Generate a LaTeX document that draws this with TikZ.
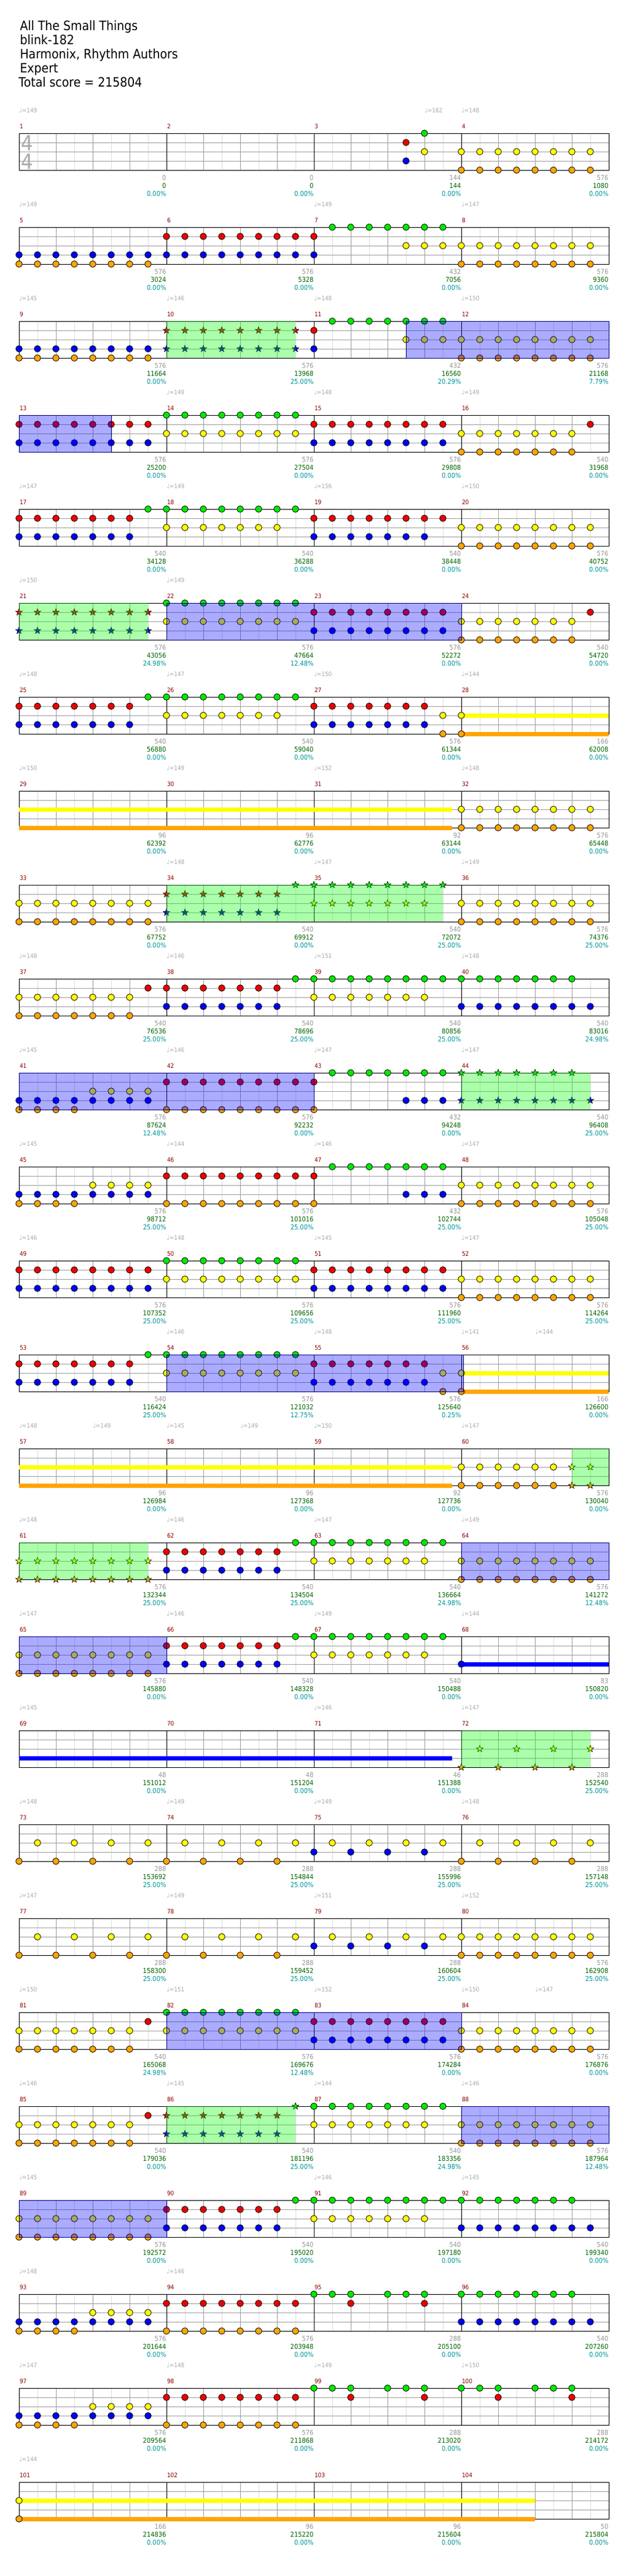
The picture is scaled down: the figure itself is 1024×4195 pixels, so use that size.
\documentclass[tikz,border=0pt]{standalone}
\usepackage{fontspec}
\setmainfont{DejaVu Sans}[FakeStretch=0.9]
\usetikzlibrary{shapes.geometric, math}

\definecolor{cgrid}{RGB}{160, 160, 160}
\definecolor{cgridlight}{RGB}{222, 222, 222}
\definecolor{ctempo}{RGB}{170, 170, 170}
\definecolor{cbarnum}{RGB}{139, 0, 0}
\definecolor{cpoints}{RGB}{150, 150, 150}
\definecolor{ctotal}{RGB}{0, 100, 0}
\definecolor{cratio}{RGB}{0, 150, 150}
\definecolor{cspfill}{RGB}{0, 255, 0}
\definecolor{codfill}{RGB}{0, 0, 255}
\definecolor{codline}{RGB}{0, 0, 128}

% lane letter (circle), lane letter (star), offset below the top line, colour
\newcommand{\deflane}[4]{%
  \definecolor{n#1}{RGB}{#4}\definecolor{n#2}{RGB}{#4}%
  \expandafter\def\csname off#1\endcsname{#3}%
  \expandafter\def\csname off#2\endcsname{#3}%
  \expandafter\def\csname kind#1\endcsname{note}%
  \expandafter\def\csname kind#2\endcsname{spnote}}
\deflane{g}{G}{0}{0, 235, 0}
\deflane{r}{R}{15}{240, 0, 0}
\deflane{y}{Y}{30}{255, 255, 0}
\deflane{b}{B}{45}{0, 0, 255}
\deflane{o}{O}{60}{255, 165, 0}

\tikzset{
  note/.style={circle, draw=black, line width=0.8pt, minimum size=10.6pt, inner sep=0pt},
  spnote/.style={star, star points=5, star point ratio=2.4, draw=black, line width=0.6pt,
    minimum size=11.5pt, inner sep=0pt},
  holdbar/.style={line width=7pt},
  spzone/.style={fill=cspfill, fill opacity=0.33},
  odzone/.style={fill=codfill, fill opacity=0.33, draw=codline, line width=1pt},
  heading/.style={anchor=base west, inner sep=0pt, font=\fontsize{21}{23}\selectfont},
  barnum/.style={anchor=base west, inner sep=0pt, text=cbarnum, font=\fontsize{10}{10}\selectfont},
  tempomark/.style={anchor=base west, inner sep=0pt, text=ctempo, font=\fontsize{10}{10}\selectfont},
  tally/.style={anchor=base east, inner sep=0pt, font=\fontsize{11}{11}\selectfont},
  timesig/.style={anchor=base, inner sep=0pt, text=ctempo, font=\fontsize{34}{34}\selectfont}
}

\newcommand{\mpos}[1]{%
  \pgfmathtruncatemacro\mrow{int((#1-1)/4)}%
  \pgfmathtruncatemacro\mcol{mod(#1-1,4)}}

% number, points, running total, ratio, notes first/step/last/lane
\newcommand{\drawmeasure}[5]{%
  \mpos{#1}
  \begin{scope}[shift={(31+240*\mcol, 217+153*\mrow)}]
    \node[barnum] (m#1) at (0.5, -7.5) {#1};
    \def\notelist{#5}
    \ifx\notelist\empty\else
    \foreach \fst/\stp/\lst/\lane in \notelist {
      \edef\nkind{\csname kind\lane\endcsname}
      \edef\ly{\csname off\lane\endcsname}
      \foreach \p in {0, 1, ..., 7} {
        \pgfmathtruncatemacro\ok{(\p>=\fst)&&(\p<=\lst)&&(mod(\p-\fst,\stp)==0)}
        \ifnum\ok=1
          \node[\nkind, fill=n\lane] (n#1-\p\lane) at (30*\p, \ly) {};
        \fi
      }
    }
    \fi
    \node[tally, text=cpoints] (p#1) at (240, 76) {#2};
    \node[tally, text=ctotal]  (t#1) at (240, 89) {#3};
    \node[tally, text=cratio]  (q#1) at (240, 102) {#4\%};
  \end{scope}}

\newcommand{\sustain}[4]{%
  \mpos{#1}
  \edef\ly{\csname off#4\endcsname}
  \draw[holdbar, n#4] (31+240*\mcol+30*#2, 217+153*\mrow+\ly)
                   -- (31+240*\mcol+30*#3, 217+153*\mrow+\ly);}

\newcommand{\spzone}[3]{%
  \mpos{#1}
  \fill[spzone] (31+240*\mcol+30*#2, 217+153*\mrow) rectangle (31+240*\mcol+30*#3, 277+153*\mrow);}

\newcommand{\odzone}[3]{%
  \mpos{#1}
  \filldraw[odzone] (31+240*\mcol+30*#2, 217+153*\mrow) rectangle (31+240*\mcol+30*#3, 277+153*\mrow);}

\begin{document}
\begin{tikzpicture}[x=1pt, y=-1pt, line width=1pt]

  \useasboundingbox[fill=white] (0, 0) rectangle (1024, 4195);

  \node[heading] (song)   at (32, 49)  {All The Small Things};
  \node[heading] (artist) at (32, 72)  {blink-182};
  \node[heading] (author) at (32, 95)  {Harmonix, Rhythm Authors};
  \node[heading] (level)  at (32, 118) {Expert};
  \node[heading] (total)  at (30, 141) {Total score = 215804};

  % staves, four bars to a row
  \foreach \r in {0, 1, ..., 25} {
    \begin{scope}[shift={(31, 217+153*\r)}]
      \foreach \k in {1, 3, ..., 31} { \draw[cgridlight] (30*\k, 0) -- (30*\k, 60); }
      \foreach \k in {2, 4, ..., 30} { \draw[cgrid] (30*\k, 0) -- (30*\k, 60); }
      \foreach \h in {15, 30, 45} { \draw[cgrid] (0, \h) -- (960, \h); }
      \foreach \k in {8, 16, 24} { \draw[black] (30*\k, 0) -- (30*\k, 60); }
      \draw[black] (0, 0) rectangle (960, 60);
    \end{scope}
  }

  \node[timesig] (sigtop) at (44.5, 245) {4};
  \node[timesig] (sigbot) at (44.5, 275) {4};

  \sustain{28}{0}{8}{y}    \sustain{28}{0}{8}{o}
  \sustain{29}{0}{23.5}{y} \sustain{29}{0}{23.5}{o}
  \sustain{56}{0}{8}{y}    \sustain{56}{0}{8}{o}
  \sustain{57}{0}{23.5}{y} \sustain{57}{0}{23.5}{o}
  \sustain{68}{0}{8}{b}
  \sustain{69}{0}{23.5}{b}
  \sustain{101}{0}{28}{y}  \sustain{101}{0}{28}{o}

  \drawmeasure{1}{0}{0}{0.00}{}
  \drawmeasure{2}{0}{0}{0.00}{}
  \drawmeasure{3}{144}{144}{0.00}{5/1/5/r, 5/1/5/b, 6/1/6/g, 6/1/6/y}
  \drawmeasure{4}{576}{1080}{0.00}{0/1/7/y, 0/1/7/o}
  \drawmeasure{5}{576}{3024}{0.00}{0/1/7/b, 0/1/7/o}
  \drawmeasure{6}{576}{5328}{0.00}{0/1/7/r, 0/1/7/b}
  \drawmeasure{7}{432}{7056}{0.00}{0/1/0/r, 0/1/0/b, 1/1/7/g, 5/1/7/y}
  \drawmeasure{8}{576}{9360}{0.00}{0/1/7/y, 0/1/7/o}
  \drawmeasure{9}{576}{11664}{0.00}{0/1/7/b, 0/1/7/o}
  \drawmeasure{10}{576}{13968}{25.00}{0/1/7/R, 0/1/7/B}
  \drawmeasure{11}{432}{16560}{20.29}{0/1/0/r, 0/1/0/b, 1/1/7/g, 5/1/7/y}
  \drawmeasure{12}{576}{21168}{7.79}{0/1/7/y, 0/1/7/o}
  \drawmeasure{13}{576}{25200}{0.00}{0/1/7/r, 0/1/7/b}
  \drawmeasure{14}{576}{27504}{0.00}{0/1/7/g, 0/1/7/y}
  \drawmeasure{15}{576}{29808}{0.00}{0/1/7/r, 0/1/7/b}
  \drawmeasure{16}{540}{31968}{0.00}{0/1/6/y, 0/1/6/o, 7/1/7/r}
  \drawmeasure{17}{540}{34128}{0.00}{0/1/6/r, 0/1/6/b, 7/1/7/g}
  \drawmeasure{18}{540}{36288}{0.00}{0/1/7/g, 0/1/6/y}
  \drawmeasure{19}{540}{38448}{0.00}{0/1/7/r, 0/1/6/b}
  \drawmeasure{20}{576}{40752}{0.00}{0/1/7/y, 0/1/7/o}
  \drawmeasure{21}{576}{43056}{24.98}{0/1/7/R, 0/1/7/B}
  \drawmeasure{22}{576}{47664}{12.48}{0/1/7/g, 0/1/7/y}
  \drawmeasure{23}{576}{52272}{0.00}{0/1/7/r, 0/1/7/b}
  \drawmeasure{24}{540}{54720}{0.00}{0/1/6/y, 0/1/6/o, 7/1/7/r}
  \drawmeasure{25}{540}{56880}{0.00}{0/1/6/r, 0/1/6/b, 7/1/7/g}
  \drawmeasure{26}{540}{59040}{0.00}{0/1/7/g, 0/1/6/y}
  \drawmeasure{27}{576}{61344}{0.00}{0/1/6/r, 0/1/6/b, 7/1/7/y, 7/1/7/o}
  \drawmeasure{28}{166}{62008}{0.00}{0/1/0/y, 0/1/0/o}
  \drawmeasure{29}{96}{62392}{0.00}{}
  \drawmeasure{30}{96}{62776}{0.00}{}
  \drawmeasure{31}{92}{63144}{0.00}{}
  \drawmeasure{32}{576}{65448}{0.00}{0/1/7/y, 0/1/7/o}
  \drawmeasure{33}{576}{67752}{0.00}{0/1/7/y, 0/1/7/o}
  \drawmeasure{34}{540}{69912}{0.00}{0/1/6/R, 0/1/6/B, 7/1/7/G}
  \drawmeasure{35}{540}{72072}{25.00}{0/1/7/G, 0/1/6/Y}
  \drawmeasure{36}{576}{74376}{25.00}{0/1/7/y, 0/1/7/o}
  \drawmeasure{37}{540}{76536}{25.00}{0/1/6/y, 0/1/6/o, 7/1/7/r}
  \drawmeasure{38}{540}{78696}{25.00}{0/1/6/r, 0/1/6/b, 7/1/7/g}
  \drawmeasure{39}{540}{80856}{25.00}{0/1/7/g, 0/1/6/y}
  \drawmeasure{40}{540}{83016}{24.98}{0/1/6/g, 0/1/7/b}
  \drawmeasure{41}{576}{87624}{12.48}{0/1/7/b, 0/1/3/o, 4/1/7/y}
  \drawmeasure{42}{576}{92232}{0.00}{0/1/7/r, 0/1/7/o}
  \drawmeasure{43}{432}{94248}{0.00}{0/1/0/r, 0/1/0/o, 1/1/7/g, 5/1/7/b}
  \drawmeasure{44}{540}{96408}{25.00}{0/1/6/G, 0/1/7/B}
  \drawmeasure{45}{576}{98712}{25.00}{0/1/7/b, 0/1/3/o, 4/1/7/y}
  \drawmeasure{46}{576}{101016}{25.00}{0/1/7/r, 0/1/7/o}
  \drawmeasure{47}{432}{102744}{25.00}{0/1/0/r, 0/1/0/o, 1/1/7/g, 5/1/7/b}
  \drawmeasure{48}{576}{105048}{25.00}{0/1/7/y, 0/1/7/o}
  \drawmeasure{49}{576}{107352}{25.00}{0/1/7/r, 0/1/7/b}
  \drawmeasure{50}{576}{109656}{25.00}{0/1/7/g, 0/1/7/y}
  \drawmeasure{51}{576}{111960}{25.00}{0/1/7/r, 0/1/7/b}
  \drawmeasure{52}{576}{114264}{25.00}{0/1/7/y, 0/1/7/o}
  \drawmeasure{53}{540}{116424}{25.00}{0/1/6/r, 0/1/6/b, 7/1/7/g}
  \drawmeasure{54}{576}{121032}{12.75}{0/1/7/g, 0/1/7/y}
  \drawmeasure{55}{576}{125640}{0.25}{0/1/6/r, 0/1/6/b, 7/1/7/y, 7/1/7/o}
  \drawmeasure{56}{166}{126600}{0.00}{0/1/0/y, 0/1/0/o}
  \drawmeasure{57}{96}{126984}{0.00}{}
  \drawmeasure{58}{96}{127368}{0.00}{}
  \drawmeasure{59}{92}{127736}{0.00}{}
  \drawmeasure{60}{576}{130040}{0.00}{0/1/5/y, 0/1/5/o, 6/1/7/Y, 6/1/7/O}
  \drawmeasure{61}{576}{132344}{25.00}{0/1/7/Y, 0/1/7/O}
  \drawmeasure{62}{540}{134504}{25.00}{0/1/6/r, 0/1/6/b, 7/1/7/g}
  \drawmeasure{63}{540}{136664}{24.98}{0/1/7/g, 0/1/6/y}
  \drawmeasure{64}{576}{141272}{12.48}{0/1/7/y, 0/1/7/o}
  \drawmeasure{65}{576}{145880}{0.00}{0/1/7/y, 0/1/7/o}
  \drawmeasure{66}{540}{148328}{0.00}{0/1/6/r, 0/1/6/b, 7/1/7/g}
  \drawmeasure{67}{540}{150488}{0.00}{0/1/7/g, 0/1/6/y}
  \drawmeasure{68}{83}{150820}{0.00}{0/1/0/b}
  \drawmeasure{69}{48}{151012}{0.00}{}
  \drawmeasure{70}{48}{151204}{0.00}{}
  \drawmeasure{71}{46}{151388}{0.00}{}
  \drawmeasure{72}{288}{152540}{25.00}{0/2/6/O, 1/2/7/Y}
  \drawmeasure{73}{288}{153692}{25.00}{0/2/6/o, 1/2/7/y}
  \drawmeasure{74}{288}{154844}{25.00}{0/2/6/o, 1/2/7/y}
  \drawmeasure{75}{288}{155996}{25.00}{0/2/6/b, 1/2/7/y}
  \drawmeasure{76}{288}{157148}{25.00}{0/2/6/o, 1/2/7/y}
  \drawmeasure{77}{288}{158300}{25.00}{0/2/6/o, 1/2/7/y}
  \drawmeasure{78}{288}{159452}{25.00}{0/2/6/o, 1/2/7/y}
  \drawmeasure{79}{288}{160604}{25.00}{0/2/6/b, 1/2/7/y}
  \drawmeasure{80}{576}{162908}{25.00}{0/1/7/y, 0/1/7/o}
  \drawmeasure{81}{540}{165068}{24.98}{0/1/6/y, 0/1/6/o, 7/1/7/r}
  \drawmeasure{82}{576}{169676}{12.48}{0/1/7/g, 0/1/7/y}
  \drawmeasure{83}{576}{174284}{0.00}{0/1/7/r, 0/1/7/b}
  \drawmeasure{84}{576}{176876}{0.00}{0/1/7/y, 0/1/7/o}
  \drawmeasure{85}{540}{179036}{0.00}{0/1/6/y, 0/1/6/o, 7/1/7/r}
  \drawmeasure{86}{540}{181196}{25.00}{0/1/6/R, 0/1/6/B, 7/1/7/G}
  \drawmeasure{87}{540}{183356}{24.98}{0/1/7/g, 0/1/6/y}
  \drawmeasure{88}{576}{187964}{12.48}{0/1/7/y, 0/1/7/o}
  \drawmeasure{89}{576}{192572}{0.00}{0/1/7/y, 0/1/7/o}
  \drawmeasure{90}{540}{195020}{0.00}{0/1/6/r, 0/1/6/b, 7/1/7/g}
  \drawmeasure{91}{540}{197180}{0.00}{0/1/7/g, 0/1/6/y}
  \drawmeasure{92}{540}{199340}{0.00}{0/1/6/g, 0/1/7/b}
  \drawmeasure{93}{576}{201644}{0.00}{0/1/7/b, 0/1/3/o, 4/1/7/y}
  \drawmeasure{94}{576}{203948}{0.00}{0/1/7/r, 0/1/7/o}
  \drawmeasure{95}{288}{205100}{0.00}{0/1/2/g, 4/1/6/g, 2/4/6/r}
  \drawmeasure{96}{540}{207260}{0.00}{0/1/6/g, 0/1/7/b}
  \drawmeasure{97}{576}{209564}{0.00}{0/1/7/b, 0/1/3/o, 4/1/7/y}
  \drawmeasure{98}{576}{211868}{0.00}{0/1/7/r, 0/1/7/o}
  \drawmeasure{99}{288}{213020}{0.00}{0/1/2/g, 4/1/6/g, 2/4/6/r}
  \drawmeasure{100}{288}{214172}{0.00}{0/1/2/g, 4/1/6/g, 2/4/6/r}
  \drawmeasure{101}{166}{214836}{0.00}{0/1/0/y, 0/1/0/o}
  \drawmeasure{102}{96}{215220}{0.00}{}
  \drawmeasure{103}{96}{215604}{0.00}{}
  \drawmeasure{104}{50}{215804}{0.00}{}

  % star power phrases and overdrive
  \spzone{10}{0}{7} \spzone{21}{0}{7} \spzone{34}{0}{15} \spzone{44}{0}{7}
  \spzone{60}{6}{8} \spzone{61}{0}{7} \spzone{72}{0}{7} \spzone{86}{0}{7}
  \odzone{11}{5}{16} \odzone{13}{0}{5} \odzone{22}{0}{16} \odzone{41}{0}{16}
  \odzone{54}{0}{16.1} \odzone{64}{0}{8} \odzone{65}{0}{8} \odzone{82}{0}{16}
  \odzone{88}{0}{8} \odzone{89}{0}{8}

  % tempo changes: bar/eighth/bpm
  \foreach \m/\p/\bpm in {1/0/149, 3/6/162, 4/0/148, 5/0/149, 7/0/149, 8/0/147,
      9/0/145, 10/0/146, 11/0/148, 12/0/150, 14/0/149, 15/0/148, 16/0/149,
      17/0/147, 18/0/149, 19/0/156, 20/0/150, 21/0/150, 22/0/149,
      25/0/148, 26/0/147, 27/0/150, 28/0/144, 29/0/150, 30/0/149, 31/0/152, 32/0/148,
      34/0/148, 35/0/147, 36/0/149, 37/0/148, 38/0/146, 39/0/151, 40/0/148,
      41/0/145, 42/0/146, 43/0/147, 44/0/147, 45/0/145, 46/0/144, 47/0/146, 48/0/147,
      49/0/146, 50/0/148, 51/0/145, 52/0/147, 54/0/146, 55/0/148, 56/0/141, 56/4/144,
      57/0/148, 57/4/149, 58/0/145, 58/4/149, 59/0/150, 60/0/147,
      61/0/148, 62/0/146, 63/0/147, 64/0/149, 65/0/147, 66/0/146, 67/0/149, 68/0/144,
      69/0/145, 71/0/146, 72/0/147, 73/0/148, 74/0/149, 75/0/149, 76/0/148,
      77/0/147, 78/0/149, 79/0/151, 80/0/152, 81/0/150, 82/0/151, 83/0/152, 84/0/150, 84/4/147,
      85/0/146, 86/0/145, 87/0/144, 88/0/146, 89/0/145, 91/0/146, 92/0/145,
      93/0/148, 94/0/146, 97/0/147, 98/0/148, 99/0/149, 100/0/150, 101/0/144} {
    \mpos{\m}
    \node[tempomark] (bpm\m-\p) at (31+240*\mcol+30*\p, 183.5+153*\mrow) {♩=\bpm};
  }

\end{tikzpicture}
\end{document}
